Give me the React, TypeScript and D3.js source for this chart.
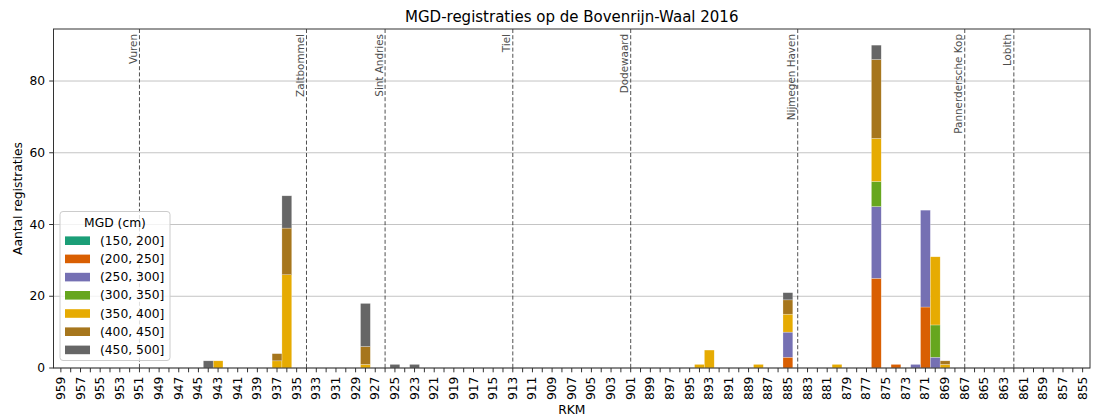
import React from "react";
import * as d3 from "d3";

const rkmDomain: number[] = d3.range(959, 854, -1);
const tickLabels: number[] = rkmDomain.filter((d) => d % 2 === 1);

const barRkm = [944, 943, 937, 936, 928, 925, 923, 894, 893, 888, 885, 880, 876, 874, 872, 871, 870, 869];
const s150_200 = [0, 0, 0, 0, 0, 0, 0, 0, 0, 0, 0, 0, 0, 0, 0, 0, 0, 0];
const s200_250 = [0, 0, 0, 0, 0, 0, 0, 0, 0, 0, 3, 0, 25, 1, 0, 17, 0, 0];
const s250_300 = [0, 0, 0, 0, 0, 0, 0, 0, 0, 0, 7, 0, 20, 0, 1, 27, 3, 0];
const s300_350 = [0, 0, 0, 0, 0, 0, 0, 0, 0, 0, 0, 0, 7, 0, 0, 0, 9, 0];
const s350_400 = [0, 2, 2, 26, 1, 0, 0, 1, 5, 1, 5, 1, 12, 0, 0, 0, 19, 1];
const s400_450 = [0, 0, 2, 13, 5, 0, 0, 0, 0, 0, 4, 0, 22, 0, 0, 0, 0, 1];
const s450_500 = [2, 0, 0, 9, 12, 1, 1, 0, 0, 0, 2, 0, 4, 0, 0, 0, 0, 0];

const seriesNames = ["(150, 200]", "(200, 250]", "(250, 300]", "(300, 350]", "(350, 400]", "(400, 450]", "(450, 500]"];
const seriesColors = ["#1b9e77", "#d95f02", "#7570b3", "#66a61e", "#e6ab02", "#a6761d", "#666666"];
const seriesValues = [s150_200, s200_250, s250_300, s300_350, s350_400, s400_450, s450_500];

const placeNames = ["Vuren", "Zaltbommel", "Sint Andries", "Tiel", "Dodewaard", "Nijmegen Haven", "Pannerdersche Kop", "Lobith"];
const placeRkm = [951, 934, 926, 913, 901, 884, 867, 862];

const yTicks = [0, 20, 40, 60, 80];

const W = 1106, H = 417;
const L = 53.5, R = 1090, T = 29, B = 368;
const FONT = "DejaVu Sans, sans-serif";

export default function App() {
  const x = d3.scaleBand<number>().domain(rkmDomain).range([L, R]).paddingInner(0).paddingOuter(0.25);
  const y = d3.scaleLinear().domain([0, 94.5]).range([B, T]);
  const cx = (r: number) => (x(r) as number) + x.bandwidth() / 2;

  const table = barRkm.map((r, i) => {
    const row: any = { rkm: r };
    seriesNames.forEach((n, k) => (row[n] = seriesValues[k][i]));
    return row;
  });
  const stacked = d3.stack<any>().keys(seriesNames)(table);

  const legX = 60, legY = 211.5, legW = 110, legH = 149;
  const rowH = 18.2;

  return (
    <svg width={W} height={H} style={{ position: "absolute", left: 0, top: 0, display: "block", background: "#fff" }} fontFamily={FONT}>
      <rect x={0} y={0} width={W} height={H} fill="#fff" />
      {yTicks.map((t) => (
        <line key={"g" + t} x1={L} x2={R} y1={y(t)} y2={y(t)} stroke="#c4c4c4" strokeWidth={1} />
      ))}
      {stacked.map((layer, k) => (
        <g key={layer.key} fill={seriesColors[k]}>
          {layer.map((d, i) =>
            d[1] - d[0] > 0 ? (
              <rect
                key={i}
                x={x(d.data.rkm) as number}
                width={x.bandwidth()}
                y={y(d[1])}
                height={y(d[0]) - y(d[1])}
                stroke="#ffffff"
                strokeOpacity={0.5}
                strokeWidth={0.5}
              />
            ) : null
          )}
        </g>
      ))}
      {placeRkm.map((r, i) => (
        <g key={"p" + r}>
          <line x1={cx(r)} x2={cx(r)} y1={T} y2={B} stroke="#333" strokeWidth={1} strokeDasharray="4,2.2" opacity={0.85} />
          <text
            transform={`translate(${cx(r) - 2.5},${T + 5}) rotate(-90)`}
            textAnchor="end"
            fontSize={10.4}
            fill="#4d4d4d"
          >
            {placeNames[i]}
          </text>
        </g>
      ))}
      <rect x={L} y={T} width={R - L} height={B - T} fill="none" stroke="#333" strokeWidth={1} />
      {rkmDomain.map((r) => (
        <line key={"xt" + r} x1={cx(r)} x2={cx(r)} y1={B} y2={B + 4.3} stroke="#333" strokeWidth={1} />
      ))}
      {tickLabels.map((r) => (
        <text
          key={"xl" + r}
          transform={`translate(${cx(r)},${B + 8.6}) rotate(-90)`}
          textAnchor="end"
          dominantBaseline="central"
          fontSize={12.3}
          fill="#000"
        >
          {r}
        </text>
      ))}
      {yTicks.map((t) => (
        <g key={"yt" + t}>
          <line x1={L - 4.3} x2={L} y1={y(t)} y2={y(t)} stroke="#333" strokeWidth={1} />
          <text x={L - 8.3} y={y(t)} textAnchor="end" dominantBaseline="central" fontSize={12.3} fill="#000">
            {t}
          </text>
        </g>
      ))}
      <text x={(L + R) / 2} y={414} textAnchor="middle" fontSize={12.3} fill="#000">RKM</text>
      <text transform={`translate(22,${(T + B) / 2}) rotate(-90)`} textAnchor="middle" fontSize={12.3} fill="#000">
        Aantal registraties
      </text>
      <text x={(L + R) / 2} y={22} textAnchor="middle" fontSize={15} fill="#000">
        MGD-registraties op de Bovenrijn-Waal 2016
      </text>
      <g>
        <rect x={legX} y={legY} width={legW} height={legH} rx={3} fill="#fff" fillOpacity={0.8} stroke="#cccccc" strokeWidth={1} />
        <text x={legX + legW / 2} y={legY + 15} textAnchor="middle" fontSize={12.3} fill="#000">MGD (cm)</text>
        {seriesNames.map((n, k) => {
          const cy = 240.7 + k * rowH;
          return (
            <g key={"lg" + n}>
              <rect x={65} y={cy - 4.3} width={25} height={8.6} fill={seriesColors[k]} />
              <text x={100} y={cy} dominantBaseline="central" fontSize={12.3} fill="#000">{n}</text>
            </g>
          );
        })}
      </g>
    </svg>
  );
}
